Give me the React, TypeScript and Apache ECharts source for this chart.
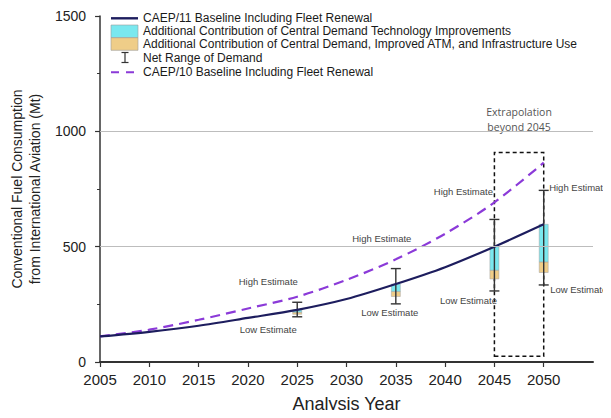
import React, { useEffect, useRef } from "react";
import * as echarts from "echarts";

// Fuel consumption trajectories (Mt), every five years
const YEARS = [2005, 2010, 2015, 2020, 2025, 2030, 2035, 2040, 2045, 2050];
const CAEP11_BASELINE = [111, 131, 157, 191, 226, 273, 338, 411, 500, 597];
const CAEP10_BASELINE = [111, 140, 183, 232, 283, 356, 445, 556, 692, 864];

// Central-demand contributions and the net demand range at the analysis years
const ESTIMATE_YEARS = [2025, 2035, 2045, 2050];
const TECH_BOTTOM = [216, 306, 398, 434];
const ATM_BOTTOM = [207, 284, 360, 388];
const NET_LOW = [196, 252, 308, 334];
const NET_HIGH = [259, 405, 618, 744];

// Axis ticks
const X_TICKS = [2005, 2010, 2015, 2020, 2025, 2030, 2035, 2040, 2045, 2050];
const Y_GRID_VALUES = [500, 1000];

// Extrapolated period
const EXTRAPOLATION_START = 2045;
const EXTRAPOLATION_END = 2050;
const EXTRAPOLATION_RANGE = [25, 908];

const LEGEND_NAMES = [
  "CAEP/11 Baseline Including Fleet Renewal",
  "Additional Contribution of Central Demand Technology Improvements",
  "Additional Contribution of Central Demand, Improved ATM, and Infrastructure Use",
  "Net Range of Demand",
  "CAEP/10 Baseline Including Fleet Renewal",
];

const NAVY = "#1d1d5e";
const PURPLE = "#8b3ad8";
const CYAN = "#7ae8ef";
const TAN = "#efcd88";
const FONT = "'Liberation Sans', Arial, sans-serif";

// pixel nudges for the "High/Low Estimate" notes, relative to each bar's caps
const NOTE_NUDGE = [
  { hi: [-29, -21], lo: [-29, 13] },
  { hi: [-14, -30], lo: [-6, 9] },
  { hi: [-31, -28], lo: [-26, 10] },
  { hi: [35, -3], lo: [35, 5] },
];

export default function App() {
  const ref = useRef<HTMLDivElement>(null);

  useEffect(() => {
    if (!ref.current) return;
    const chart = echarts.init(ref.current, undefined, { renderer: "svg" });

    const baselineAt = (y: number) => CAEP11_BASELINE[YEARS.indexOf(y)];
    const estimateRows = ESTIMATE_YEARS.map((y, i) => [
      y,
      baselineAt(y),
      TECH_BOTTOM[i],
      ATM_BOTTOM[i],
      NET_LOW[i],
      NET_HIGH[i],
    ]);

    const rowY = [18.3, 31.3, 44, 57.7, 72.3];
    const legendChildren: any[] = [
      { type: "line", shape: { x1: 111, y1: rowY[0], x2: 138, y2: rowY[0] }, style: { stroke: NAVY, lineWidth: 2.4 } },
      { type: "rect", shape: { x: 111, y: 25, width: 27, height: 12.7 }, style: { fill: CYAN, stroke: "#9a9a9a", lineWidth: 0.6 } },
      { type: "rect", shape: { x: 111, y: 37.7, width: 27, height: 12.6 }, style: { fill: TAN, stroke: "#9a9a9a", lineWidth: 0.6 } },
      { type: "line", shape: { x1: 125, y1: 52.5, x2: 125, y2: 62.5 }, style: { stroke: "#333", lineWidth: 1.2 } },
      { type: "line", shape: { x1: 121.5, y1: 52.5, x2: 128.5, y2: 52.5 }, style: { stroke: "#333", lineWidth: 1.2 } },
      { type: "line", shape: { x1: 121.5, y1: 62.5, x2: 128.5, y2: 62.5 }, style: { stroke: "#333", lineWidth: 1.2 } },
      { type: "line", shape: { x1: 111, y1: rowY[4], x2: 138, y2: rowY[4] }, style: { stroke: PURPLE, lineWidth: 2, lineDash: [8, 7] } },
    ];
    LEGEND_NAMES.forEach((name, i) => {
      legendChildren.push({
        type: "text",
        x: 143,
        y: rowY[i],
        style: { text: name, fill: "#1a1a1a", font: `12px ${FONT}`, textVerticalAlign: "middle" },
      });
    });

    chart.setOption({
      animation: false,
      backgroundColor: "#ffffff",
      grid: { left: 97, right: 18, top: 16, bottom: 55 },
      xAxis: {
        type: "value",
        min: 2005,
        max: 2055,
        interval: 5,
        name: "Analysis Year",
        nameLocation: "middle",
        nameGap: 33,
        nameTextStyle: { fontFamily: FONT, fontSize: 18, color: "#222" },
        axisLine: { show: true, lineStyle: { color: "#333", width: 2 } },
        axisTick: { show: true, length: 5, customValues: X_TICKS, lineStyle: { color: "#333", width: 1.2 } },
        axisLabel: {
          customValues: X_TICKS,
          formatter: (v: number) => String(v),
          fontFamily: FONT,
          fontSize: 15,
          color: "#222",
          margin: 10,
        },
        splitLine: { show: false },
      },
      yAxis: {
        type: "value",
        min: 0,
        max: 1500,
        interval: 500,
        name: "Conventional Fuel Consumption\nfrom International Aviation (Mt)",
        nameLocation: "middle",
        nameRotate: 90,
        nameGap: 50,
        nameTextStyle: { fontFamily: FONT, fontSize: 14, color: "#222", lineHeight: 18 },
        axisLine: { show: true, lineStyle: { color: "#333", width: 1.5 } },
        axisTick: { show: true, length: 5, lineStyle: { color: "#333", width: 1.2 } },
        minorTick: { show: true, splitNumber: 2, length: 3, lineStyle: { color: "#333", width: 1 } },
        axisLabel: {
          formatter: (v: number) => String(v),
          fontFamily: FONT,
          fontSize: 14,
          color: "#222",
          margin: 14,
        },
        splitLine: { show: false },
      },
      graphic: [{ type: "group", children: legendChildren }],
      series: [
        {
          name: "Net Range of Demand",
          type: "custom",
          z: 2,
          data: estimateRows,
          renderItem: (params: any, api: any) => {
            const yr = api.value(0);
            const top = api.coord([yr, api.value(1)]);
            const mid = api.coord([yr, api.value(2)]);
            const bot = api.coord([yr, api.value(3)]);
            const lo = api.coord([yr, api.value(4)]);
            const hi = api.coord([yr, api.value(5)]);
            const x = top[0];
            const w = 9;
            const cap = 5;
            const n = NOTE_NUDGE[params.dataIndex];
            const noteStyle = {
              fill: "#444",
              font: `9.5px ${FONT}`,
              textAlign: "center",
              textVerticalAlign: "middle",
            };
            return {
              type: "group",
              children: [
                {
                  type: "rect",
                  shape: { x: x - w / 2, y: mid[1], width: w, height: bot[1] - mid[1] },
                  style: { fill: TAN, stroke: "#a0a0a0", lineWidth: 0.5 },
                },
                {
                  type: "rect",
                  shape: { x: x - w / 2, y: top[1], width: w, height: mid[1] - top[1] },
                  style: { fill: CYAN, stroke: "#a0a0a0", lineWidth: 0.5 },
                },
                { type: "line", shape: { x1: x, y1: hi[1], x2: x, y2: lo[1] }, style: { stroke: "#333", lineWidth: 1.4 } },
                { type: "line", shape: { x1: x - cap, y1: hi[1], x2: x + cap, y2: hi[1] }, style: { stroke: "#333", lineWidth: 1.4 } },
                { type: "line", shape: { x1: x - cap, y1: lo[1], x2: x + cap, y2: lo[1] }, style: { stroke: "#333", lineWidth: 1.4 } },
                { type: "text", x: x + n.hi[0], y: hi[1] + n.hi[1], style: { ...noteStyle, text: "High Estimate" } },
                { type: "text", x: x + n.lo[0], y: lo[1] + n.lo[1], style: { ...noteStyle, text: "Low Estimate" } },
              ],
            };
          },
        },
        {
          name: LEGEND_NAMES[4],
          type: "line",
          z: 3,
          smooth: 0.3,
          symbol: "none",
          data: YEARS.map((y, i) => [y, CAEP10_BASELINE[i]]),
          lineStyle: { color: PURPLE, width: 2.2, type: [10, 6] },
        },
        {
          name: LEGEND_NAMES[0],
          type: "line",
          z: 4,
          smooth: 0.3,
          symbol: "none",
          data: YEARS.map((y, i) => [y, CAEP11_BASELINE[i]]),
          lineStyle: { color: NAVY, width: 2.2 },
          markLine: {
            silent: true,
            symbol: "none",
            label: { show: false },
            lineStyle: { color: "#bdbdbd", width: 1, type: "solid" },
            data: Y_GRID_VALUES.map((v) => ({ yAxis: v })),
          },
          markArea: {
            silent: true,
            itemStyle: { color: "rgba(0,0,0,0)", borderColor: "#111", borderWidth: 1.5, borderType: [4, 3] },
            label: {
              show: true,
              position: "top",
              distance: 17,
              formatter: "Extrapolation\nbeyond " + EXTRAPOLATION_START,
              fontFamily: "'Open Sans', sans-serif",
              fontSize: 10.5,
              lineHeight: 15.5,
              color: "#555",
            },
            data: [
              [
                { xAxis: EXTRAPOLATION_START, yAxis: EXTRAPOLATION_RANGE[0] },
                { xAxis: EXTRAPOLATION_END, yAxis: EXTRAPOLATION_RANGE[1] },
              ],
            ],
          },
        },
      ],
    });

    return () => chart.dispose();
  }, []);

  return <div ref={ref} style={{ width: 611, height: 418, margin: -8 }} />;
}
